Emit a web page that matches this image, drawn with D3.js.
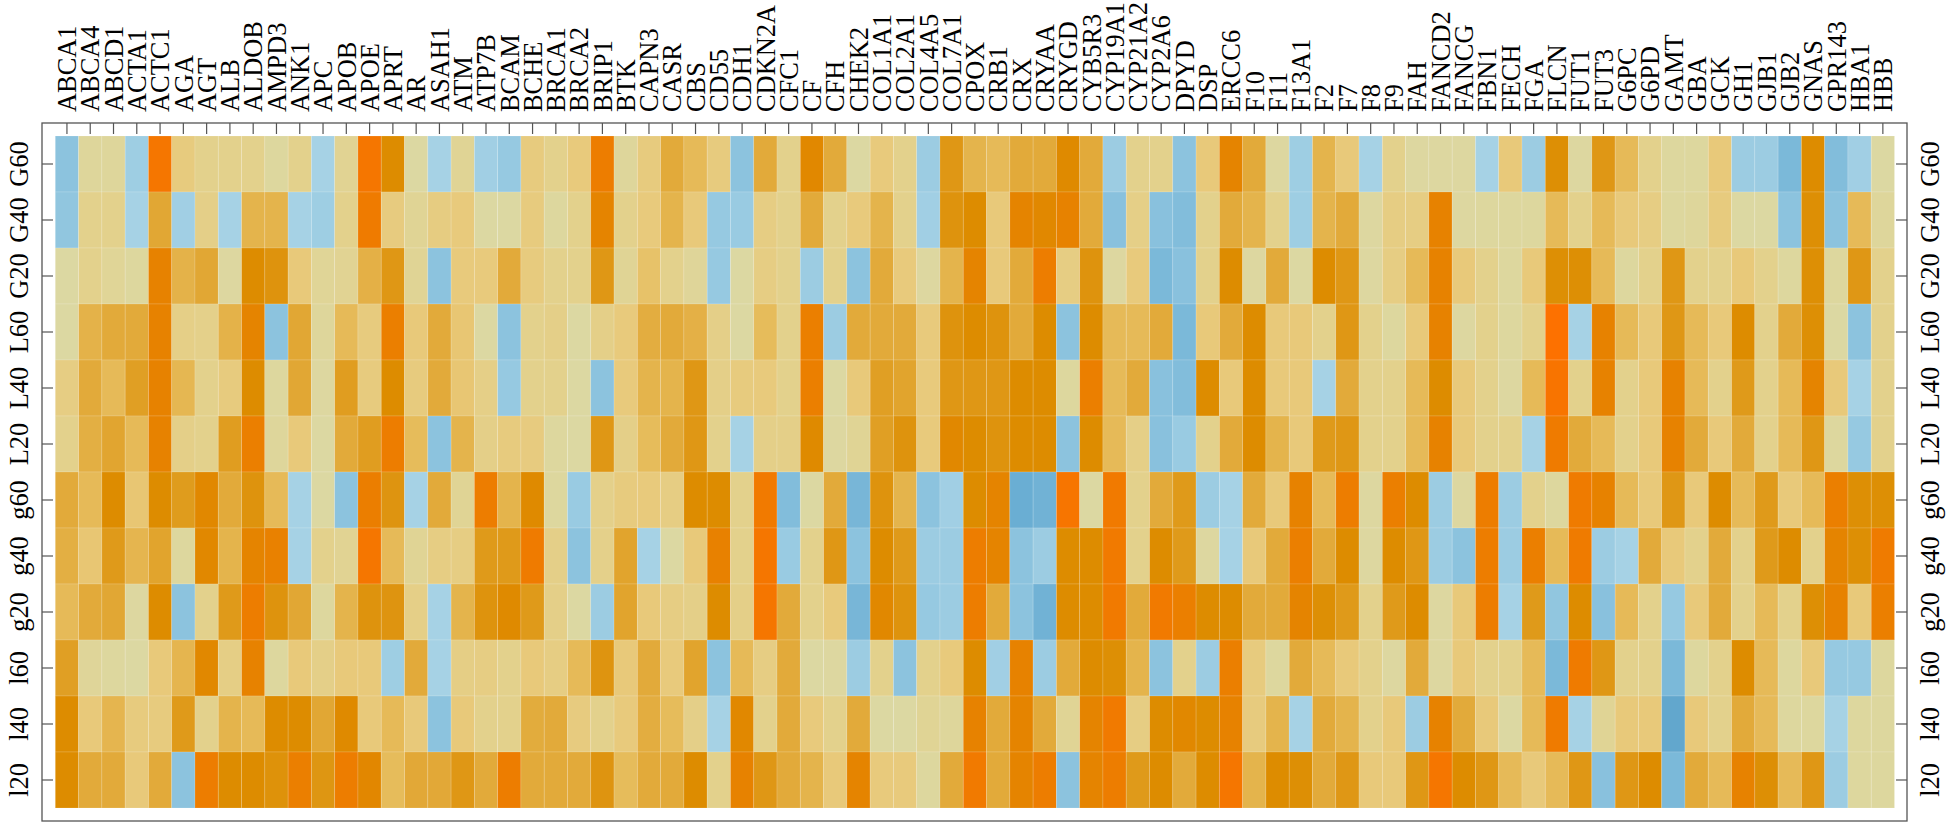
<!DOCTYPE html>
<html>
<head>
<meta charset="utf-8">
<script src="https://cdn.jsdelivr.net/npm/d3@7"></script>
<style>
  html, body { margin: 0; padding: 0; background: #ffffff; }
  svg { display: block; }
</style>
</head>
<body>
<svg id="chart" width="1948" height="822"></svg>
<script>
// Column categories (genes)
const genes = ["ABCA1","ABCA4","ABCD1","ACTA1","ACTC1","AGA","AGT","ALB","ALDOB","AMPD3","ANK1","APC","APOB","APOE","APRT","AR","ASAH1","ATM","ATP7B","BCAM","BCHE","BRCA1","BRCA2","BRIP1","BTK","CAPN3","CASR","CBS","CD55","CDH1","CDKN2A","CFC1","CF","CFH","CHEK2","COL1A1","COL2A1","COL4A5","COL7A1","CPOX","CRB1","CRX","CRYAA","CRYGD","CYB5R3","CYP19A1","CYP21A2","CYP2A6","DPYD","DSP","ERCC6","F10","F11","F13A1","F2","F7","F8","F9","FAH","FANCD2","FANCG","FBN1","FECH","FGA","FLCN","FUT1","FUT3","G6PC","G6PD","GAMT","GBA","GCK","GH1","GJB1","GJB2","GNAS","GPR143","HBA1","HBB"];

// Row categories (top to bottom)
const conditions = ["G60","G40","G20","L60","L40","L20","g60","g40","g20","l60","l40","l20"];

// Cell values: one array per gene, in the order of `conditions`
const cellValues = [
  [-2,-1.8,0,0,1.5,1,4,3.7,3,4.7,6,6],
  [0.3,1,1,3.5,4,3.7,3,2.2,4,0.4,2,4],
  [0.3,1,0.5,4,3,4.3,6,5,4.2,0.2,3.3,4],
  [-1.3,-1,0.2,4,4.7,3,2.2,3.3,0.1,0,1.8,2],
  [9,4.2,7.3,7.3,7.3,7.3,6,4.4,6,2,1.8,4],
  [1.8,-1.2,3.5,1.3,3.2,1.2,4.9,0.2,-2,3.3,5,-2],
  [1,1.2,4.2,1.1,1,1,6.5,6.5,1,6.5,1,8],
  [1,-1,0.1,3.5,1.8,4.8,4,3.4,5,1.4,3.4,6],
  [1,3.4,6,7,6,7.7,5.5,7,8,7.3,3,6],
  [0.2,3.4,5.5,-2,0.2,0.3,3,7.5,5.5,0.2,6,5.6],
  [1,-1,2,4.2,4.2,2,-1,-1,4.2,2,6,7.7],
  [-1,-1.3,0.5,0.3,0.1,0,0,1,0.2,1.2,4.2,5.3],
  [0.7,1,0.7,3,4.8,4,-2,0.7,3.4,2,6.2,8],
  [9,8.3,3.6,1.8,1.8,4.8,7.8,9,5.5,2,2,6.6],
  [6,1.7,5.2,7.7,6,8,5.4,3,5.4,-1.3,3,2.9],
  [0,0.6,0.6,2,1.8,2.9,-1,0.6,1.3,4,2,4.1],
  [-1,1.6,-2,4,4,-2,4,1.5,-1,-1,-2,4.1],
  [0.6,1.9,1.9,2.2,2.2,3.4,0.6,1.5,3.4,1.4,2,5.2],
  [-1.2,0,1.9,0,1.3,1.2,8,5,5.5,1.5,1,4],
  [-1.6,0,4,-2,-1.6,1.8,3.4,5,6.2,1,1,8],
  [1.8,1.8,1.8,1,1,1.7,6.2,8.3,5,2,3.9,4],
  [1,0.2,1,1.2,1,0.2,0.2,1.2,1.2,1.5,4,4],
  [1.9,1,1,0,0,0,-1.5,-2,0,3,1.7,4],
  [8,7,5.2,1.2,-2,5.2,1.1,1.1,-1.4,5.4,1,5.4],
  [0.3,1,0.6,1.9,1.9,1.2,1.8,4.4,4.4,2,1.9,2.9],
  [1.8,1.9,2.5,3.8,3.4,2.9,1.9,-1,2,4,3.8,4],
  [4,3.4,1,4,3.4,4,1.5,0,1.5,1.9,2.9,4],
  [3,2,0.4,3.6,5.2,5.2,6,2,1.2,4.4,1.2,6],
  [1.8,-1.6,-1.6,1.2,1.2,1,6,7.4,6,-2,-1,1],
  [-2,-1.5,0,0,1.8,-1,1,1,1.2,3,6.5,7.3],
  [4,1.5,1.5,2.9,1.9,1.2,8.5,9,9,1.5,1,5.2],
  [1,1,1,1,1,1.2,-2.3,-1.5,4,4,4,4],
  [6.5,4,-1.4,7.7,7.7,6.2,0,1,1,0,1.9,3.4],
  [4,1,1,-1.4,0,0.1,4,5.2,1.9,0.1,1,2],
  [0,1.9,-2,4,2,0.6,-2.6,-2,-2.6,-1.4,4,7],
  [1.9,3.4,4,4,4.7,4.7,5.5,6,6.5,1,0,1.9],
  [1,1,1.9,4,4.4,5.5,3.4,5,5.5,-2,0,1.9],
  [-1.4,-1.2,0.1,1.9,1.9,1.9,-2,-1.4,-1.6,1,0.6,0.2],
  [5.2,5.5,3.4,5.5,5.2,6.5,-1.2,-1.4,-1.4,1.9,0.3,4],
  [3.4,6,7,6,5.2,6,6,8,8,6,7.3,8.5],
  [3,2,2,5.5,5.2,5.5,7,7,4,-1.2,4,4],
  [4,7,4,4,6,6,-3,-2,-2,7.3,7,7],
  [4,6.5,8,6,6,6,-2.8,-1.4,-2.8,-1.4,4,8],
  [6.3,7.3,1.5,-2,0.2,-2,9.2,6,6,4,0.6,-2],
  [4,4,5.5,6,7.7,6,0,6,6,6,7,7],
  [-1.4,-2.1,0.1,3,3,3,8.5,8.5,8.5,5.8,8.5,8],
  [1,1.3,1.9,3,4,1.3,1,1,4,3.4,1.5,5],
  [1,-2.1,-2.5,4,-2.1,-2.1,4,6,8.5,-2,6,6],
  [-2,-2.3,-2.1,-2.5,-2.3,-1.5,5,5,7.7,1,6.5,4],
  [2,1,1,2,6,1,-1.4,0.1,6,-1.4,6,6],
  [7,4,6,4,2,4,-1,-1,6,7.7,7.3,9],
  [4,3.4,0.1,6,6,6,4,2,4,1.8,1.8,3.4],
  [0.1,1,4,2,2,3.4,2,4,4,0.2,3.4,6],
  [-1.3,-1.3,0,2,2,2,7.3,7.7,7,4,-1,5.8],
  [3.4,3.4,6,1,-1,5,3,4,5.8,3,4,4],
  [2,4,5.2,5.2,4,5.2,8,6,5,2,3.4,5.2],
  [-1,0.1,0.1,1,1,1,0.1,0.1,1,1,1,2],
  [1,1.5,1.5,0.2,1,1,7.7,6,5,0.1,2,2],
  [0.1,1.5,3,2,3,3,6,5.2,6,4,-1.4,5.2],
  [0.1,7.3,7.3,7.3,6,7.3,-1.4,-1.4,0.1,0.1,7.3,9],
  [0.1,0.1,2,0.1,2,2,0.1,-2,2,2,4,6],
  [-1,0.2,1,1,1,1,8,8,8,1,2,5.2],
  [2,0.2,0.2,0.2,0.1,1,-1.4,-1.4,-1,1,0,3],
  [-1.4,0.2,2,1,3,-1,1,7.7,5,3,3,2],
  [5.8,3,5.8,9.8,9.3,8.3,0.2,3,-1.8,-2.5,8.3,3],
  [0.1,1,5.8,-1,1,4,8.3,8.3,6,8.3,-1,5.2],
  [5.2,3,3,7.3,7.3,3,7.3,-1.4,-2.1,5.2,0.6,-2.1],
  [3,2,0.2,3,1,1,3,-1,3,1,2,5.2],
  [1,1.5,1,2,2,2,2,4,1,1,2,6],
  [0.2,0.2,5.2,5.2,7.3,7.3,5.2,2,-1.6,-2.5,-3.3,-2.5],
  [0.2,0.3,1,3,3,4,2,1,2,0.2,2,4],
  [2,1.8,1,2,1,2,6,4,4,1,1,3],
  [-1.4,0,2,6,5,4,3,1,1,6,4,7.3],
  [-1.4,0,1,1,1,1,5,5,3,3,3,5.8],
  [-2.5,-2,0.2,4,3,3,2,6,1,0.2,0.2,3],
  [6,5.8,5.8,5.8,7,5.2,3,1,5.8,2,0.2,5.2],
  [-2.3,-2,0.2,0,2,0.2,7.7,7,7.3,-1.6,-1,-1.4],
  [-1.2,3,5.2,-2,-1,-1.6,5.8,5.8,2,-1.6,0.2,0.2],
  [0,0.3,1,1,1,1,5.8,8.3,7.7,0.2,0.2,0.2]
];

// Colour ramp stops (value -> colour)
const colorDomain = [-3.3,-3,-2,-1,0,1,2,3,4,5,6,7,8,9,10];
const colorRange = ["#62a7cd","#6aaed3","#8cc3de","#a6d2e5","#dcd8a2","#e3d18c","#e8c97a","#e6ba58","#e2aa3a","#df9a1a","#dd8c00","#e58400","#ed7d00","#f57600","#ff7000"];

const svg = d3.select("#chart");
const frame = {left: 42, right: 1907, top: 123, bottom: 821};
const plot = {left: 55.3, right: 1894.5, top: 136, bottom: 808};

const x = d3.scaleBand().domain(genes).range([plot.left, plot.right]).padding(0);
const y = d3.scaleBand().domain(conditions).range([plot.top, plot.bottom]).padding(0);
const color = d3.scaleLinear().domain(colorDomain).range(colorRange).clamp(true);

const cells = [];
genes.forEach((g, i) => {
  conditions.forEach((c, j) => {
    cells.push({gene: g, cond: c, value: cellValues[i][j]});
  });
});

svg.append("g")
  .selectAll("rect")
  .data(cells)
  .join("rect")
  .attr("x", d => x(d.gene))
  .attr("y", d => y(d.cond))
  .attr("width", x.bandwidth())
  .attr("height", y.bandwidth())
  .attr("fill", d => color(d.value))
  .attr("stroke", "rgba(255,255,255,0.18)")
  .attr("stroke-width", 0.8);

// Frame
svg.append("rect")
  .attr("x", frame.left).attr("y", frame.top)
  .attr("width", frame.right - frame.left)
  .attr("height", frame.bottom - frame.top)
  .attr("fill", "none")
  .attr("stroke", "#555")
  .attr("stroke-width", 1.3);

const fontFamily = "'Liberation Serif', 'Times New Roman', serif";
const fontSize = 26.4;

// Top axis: ticks pointing inward, rotated labels
const topAxis = d3.axisTop(x).tickSizeInner(-11).tickSizeOuter(0);
const gTop = svg.append("g").attr("transform", `translate(0,${frame.top})`).call(topAxis);
gTop.select(".domain").remove();
gTop.selectAll(".tick line").attr("stroke", "#555").attr("stroke-width", 1.2);
gTop.selectAll(".tick text")
  .attr("fill", "#000")
  .attr("font-family", fontFamily)
  .attr("font-size", fontSize)
  .attr("text-anchor", "start")
  .attr("x", 0).attr("y", 0).attr("dy", "0.35em")
  .attr("transform", "translate(0,-11) rotate(-90)");

// Left axis
const leftAxis = d3.axisLeft(y).tickSizeInner(-11).tickSizeOuter(0);
const gLeft = svg.append("g").attr("transform", `translate(${frame.left},0)`).call(leftAxis);
gLeft.select(".domain").remove();
gLeft.selectAll(".tick line").attr("stroke", "#555").attr("stroke-width", 1.2);
gLeft.selectAll(".tick text")
  .attr("fill", "#000")
  .attr("font-family", fontFamily)
  .attr("font-size", fontSize)
  .attr("text-anchor", "middle")
  .attr("x", 0).attr("y", 0).attr("dy", "0.35em")
  .attr("transform", "translate(-23,0) rotate(-90)");

// Right axis
const rightAxis = d3.axisRight(y).tickSizeInner(-11).tickSizeOuter(0);
const gRight = svg.append("g").attr("transform", `translate(${frame.right},0)`).call(rightAxis);
gRight.select(".domain").remove();
gRight.selectAll(".tick line").attr("stroke", "#555").attr("stroke-width", 1.2);
gRight.selectAll(".tick text")
  .attr("fill", "#000")
  .attr("font-family", fontFamily)
  .attr("font-size", fontSize)
  .attr("text-anchor", "middle")
  .attr("x", 0).attr("y", 0).attr("dy", "0.35em")
  .attr("transform", "translate(23,0) rotate(-90)");
</script>
</body>
</html>
